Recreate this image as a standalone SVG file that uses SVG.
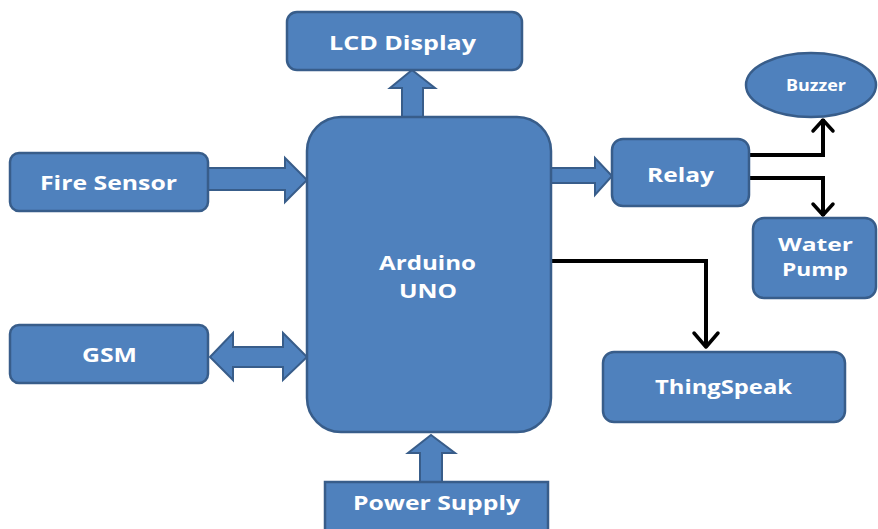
<svg xmlns="http://www.w3.org/2000/svg" width="878" height="529" viewBox="0 0 878 529">
<style>
.box{fill:#4F81BD;stroke:#385D8A;stroke-width:2.5}
.arr{fill:#4F81BD;stroke:#385D8A;stroke-width:2;stroke-linejoin:miter}
.t{fill:#FFFFFF;font-family:"Open Sans","Liberation Sans",sans-serif;font-weight:bold;font-size:20px;text-anchor:start}
.ln{fill:none;stroke:#000;stroke-width:4;stroke-linejoin:miter}
.hd{fill:none;stroke:#000;stroke-width:3.5;stroke-linecap:round;stroke-linejoin:round}
</style>
<rect width="878" height="529" fill="#FFFFFF"/>
<g id="connectors">
<polygon class="arr" points="402,118 402,88 390,88 412,70 435,88 423,88 423,118"/>
<polygon class="arr" points="208,168 285,168 285,158 307,180 285,202 285,190 208,190"/>
<polygon class="arr" points="210,357 233,333 233,347 283,347 283,333 307,357 283,380 283,367 233,367 233,380"/>
<polygon class="arr" points="551,168 595,168 595,158 612,176 595,195 595,183 551,183"/>
<polygon class="arr" points="420,482 420,453 408,453 431,435 455,453 442,453 442,482"/>
<polyline class="ln" points="749,155 823,155 823,119"/>
<polyline class="hd" points="813,131 823,120 833,131"/>
<polyline class="ln" points="749,178 823,178 823,216"/>
<polyline class="hd" points="813,204 823,215 833,204"/>
<polyline class="ln" points="551,261 706,261 706,347"/>
<polyline class="hd" points="694,333 706,347 718,333"/>
</g>
<g id="lcd">
<rect class="box" x="287" y="12" width="235" height="58" rx="10"/>
<text class="t" x="329" y="50" textLength="147" lengthAdjust="spacingAndGlyphs">LCD  Display</text>
</g>
<g id="arduino">
<rect class="box" x="307" y="117" width="244" height="315" rx="34"/>
<text class="t" x="379" y="270" textLength="97" lengthAdjust="spacingAndGlyphs">Arduino</text>
<text class="t" x="399" y="298" textLength="58" lengthAdjust="spacingAndGlyphs">UNO</text>
</g>
<g id="fire">
<rect class="box" x="10" y="153" width="198" height="58" rx="9"/>
<text class="t" x="40" y="190" textLength="137" lengthAdjust="spacingAndGlyphs">Fire Sensor</text>
</g>
<g id="gsm">
<rect class="box" x="10" y="325" width="198" height="58" rx="9"/>
<text class="t" x="82" y="362" textLength="55" lengthAdjust="spacingAndGlyphs">GSM</text>
</g>
<g id="relay">
<rect class="box" x="612" y="139" width="137" height="67" rx="11"/>
<text class="t" x="647" y="182" textLength="67" lengthAdjust="spacingAndGlyphs">Relay</text>
</g>
<g id="buzzer">
<ellipse class="box" cx="811" cy="85" rx="65" ry="32"/>
<text class="t" x="786" y="91" style="font-size:16px" textLength="60" lengthAdjust="spacingAndGlyphs">Buzzer</text>
</g>
<g id="pump">
<rect class="box" x="753" y="218" width="123" height="80" rx="11"/>
<text class="t" x="778" y="251" style="font-size:18px" textLength="75" lengthAdjust="spacingAndGlyphs">Water</text>
<text class="t" x="782" y="276" style="font-size:18px" textLength="66" lengthAdjust="spacingAndGlyphs">Pump</text>
</g>
<g id="thingspeak">
<rect class="box" x="603" y="352" width="242" height="70" rx="11"/>
<text class="t" x="655" y="394" textLength="137" lengthAdjust="spacingAndGlyphs">ThingSpeak</text>
</g>
<g id="power">
<rect class="box" x="325" y="482" width="223" height="52"/>
<text class="t" x="353" y="510" textLength="167" lengthAdjust="spacingAndGlyphs">Power Supply</text>
</g>
</svg>
